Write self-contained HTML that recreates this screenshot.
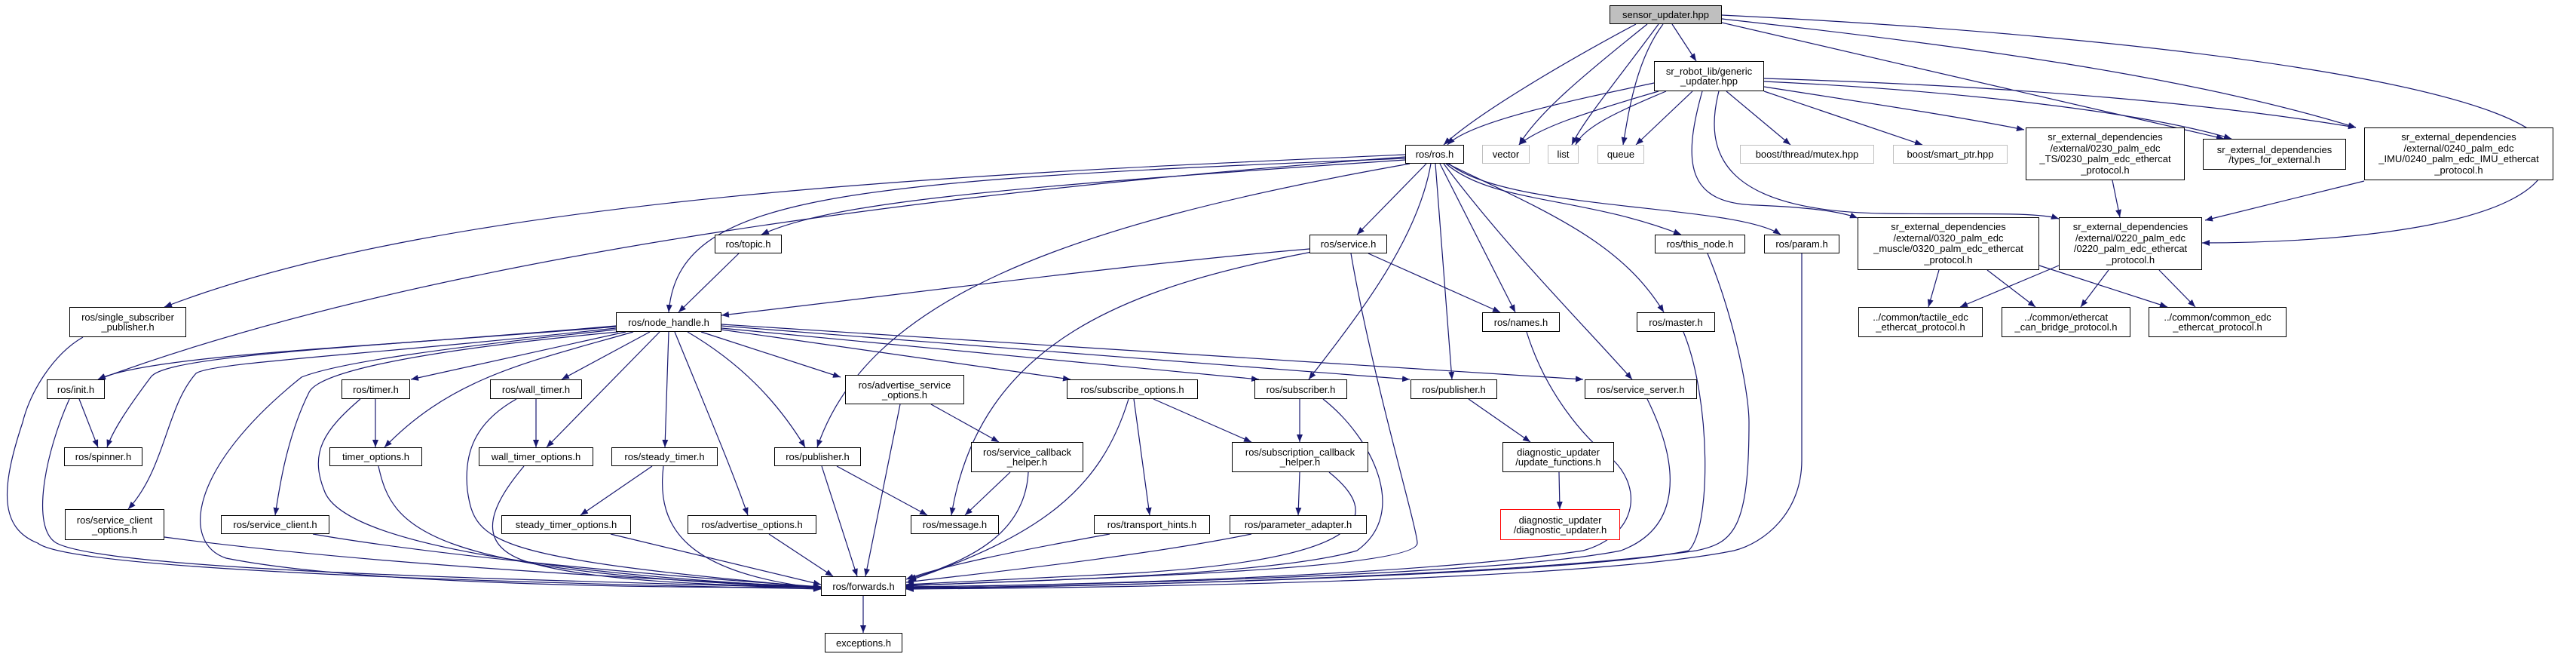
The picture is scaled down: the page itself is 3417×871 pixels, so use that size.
<!DOCTYPE html>
<html><head><meta charset="utf-8"><style>
body{margin:0;width:3417px;height:871px;background:#fff;position:relative;overflow:hidden;font-family:"Liberation Sans",sans-serif}
.n{position:absolute;box-sizing:border-box;border:1.5px solid #000;background:#fff;display:flex;align-items:center;justify-content:center;text-align:center;font-size:13px;line-height:13px;color:#000;white-space:nowrap}
.g{border-color:#bfbfbf}
.r{border-color:#ff0000}
svg{position:absolute;left:0;top:0}
</style></head><body>
<svg width="3417" height="871" viewBox="0 0 3417 871">
<defs><marker id="a" markerUnits="userSpaceOnUse" markerWidth="11" markerHeight="8" refX="10" refY="4" orient="auto"><path d="M0,0 L10,4 L0,8 z" fill="#191970"/></marker></defs>
<g fill="none" stroke="#191970" stroke-width="1.2" marker-end="url(#a)">
<path d="M2170,32 C2080,80 1960,150 1915,192"/>
<path d="M2185,32 C2100,100 2040,150 2015,192"/>
<path d="M2200,32 C2150,100 2100,160 2085,192"/>
<path d="M2206,32 C2170,80 2160,150 2153,192"/>
<path d="M2218,32 L2250,81"/>
<path d="M2284,30 C2500,80 2800,150 2950,184"/>
<path d="M2284,25 C2600,60 2900,100 3125,169"/>
<path d="M2284,20 C2900,50 3380,120 3380,205 C3380,300 3100,322 2921,322"/>
<path d="M2194,110 C2100,130 1950,160 1920,192"/>
<path d="M2200,121 C2100,150 2040,170 2015,192"/>
<path d="M2210,121 C2140,150 2100,170 2090,192"/>
<path d="M2245,121 L2170,192"/>
<path d="M2290,121 L2375,192"/>
<path d="M2340,121 L2550,192"/>
<path d="M2340,115 C2500,140 2600,155 2685,172"/>
<path d="M2340,108 C2600,120 2850,150 2960,184"/>
<path d="M2340,104 C2700,115 2950,140 3125,169"/>
<path d="M2280,121 C2260,200 2280,280 2500,283 C2600,285 2700,280 2731,290"/>
<path d="M2258,121 C2230,220 2240,270 2330,272 C2400,275 2440,280 2464,289"/>
<path d="M1864,205 C1300,230 600,260 218,407"/>
<path d="M1864,208 C1300,250 600,330 130,503"/>
<path d="M1864,210 C1100,240 900,260 887,414"/>
<path d="M1864,212 C1300,250 1100,270 1010,311"/>
<path d="M1870,217 C1400,300 1150,400 1084,593"/>
<path d="M1892,217 L1800,311"/>
<path d="M1898,217 C1880,320 1800,420 1736,503"/>
<path d="M1904,217 L1926,503"/>
<path d="M1910,217 L2010,414"/>
<path d="M1915,217 C2000,330 2100,430 2165,503"/>
<path d="M1920,217 C2050,280 2150,320 2207,414"/>
<path d="M1918,217 C1980,270 2100,260 2230,311"/>
<path d="M1922,217 C2000,280 2300,270 2362,311"/>
<path d="M1737,330 C1500,350 1200,390 957,418"/>
<path d="M1740,334 C1500,380 1300,450 1262,683"/>
<path d="M1815,336 L1990,414"/>
<path d="M1792,336 C1820,500 1880,700 1880,720 C1880,760 1300,770 1202,777"/>
<path d="M980,336 L900,414"/>
<path d="M817,433 C500,460 200,470 130,503"/>
<path d="M817,432 C500,460 220,470 200,500 C170,540 150,570 142,593"/>
<path d="M817,435 C500,470 280,480 260,495 C220,540 220,620 170,675"/>
<path d="M817,437 C600,460 450,480 400,500 C250,620 240,720 300,740 C500,780 1000,780 1089,778"/>
<path d="M820,440 C500,470 420,500 410,520 C380,580 370,650 365,683"/>
<path d="M830,440 L545,503"/>
<path d="M840,440 C700,480 600,500 510,593"/>
<path d="M862,440 L745,503"/>
<path d="M875,440 L725,593"/>
<path d="M887,440 L882,593"/>
<path d="M895,440 C940,550 970,620 992,683"/>
<path d="M912,440 C980,480 1030,530 1068,593"/>
<path d="M930,440 L1115,500"/>
<path d="M957,437 L1420,503"/>
<path d="M957,435 L1670,503"/>
<path d="M957,432 L1870,503"/>
<path d="M957,430 L2100,503"/>
<path d="M105,529 L130,593"/>
<path d="M92,529 C60,600 40,700 75,720 C150,760 800,770 1089,780"/>
<path d="M110,447 C70,470 40,520 30,560 C0,650 0,700 50,720 C100,760 800,775 1089,781"/>
<path d="M498,529 L498,593"/>
<path d="M478,529 C430,570 410,600 430,650 C460,740 900,770 1089,779"/>
<path d="M711,529 L711,593"/>
<path d="M685,529 C630,560 615,600 620,650 C630,720 650,740 1089,779"/>
<path d="M502,618 C520,700 560,760 1089,779"/>
<path d="M695,618 C660,660 620,720 700,745 C800,775 1000,776 1089,779"/>
<path d="M865,618 L770,683"/>
<path d="M880,618 C870,700 910,760 1089,780"/>
<path d="M810,708 L1089,775"/>
<path d="M1020,708 L1105,764"/>
<path d="M415,708 C600,740 900,765 1089,778"/>
<path d="M218,712 C500,750 900,770 1089,778"/>
<path d="M1110,618 L1230,683"/>
<path d="M1090,618 L1137,764"/>
<path d="M1235,536 L1325,586"/>
<path d="M1194,536 L1148,764"/>
<path d="M1340,626 L1280,683"/>
<path d="M1364,626 C1360,700 1300,740 1205,768"/>
<path d="M1530,529 L1660,586"/>
<path d="M1504,529 L1525,683"/>
<path d="M1497,529 C1460,650 1380,710 1205,770"/>
<path d="M1724,529 L1724,586"/>
<path d="M1755,529 C1820,580 1870,680 1800,730 C1700,760 1400,770 1202,776"/>
<path d="M1724,626 L1722,683"/>
<path d="M1763,626 C1830,680 1830,740 1500,760 L1202,775"/>
<path d="M1472,708 C1350,730 1250,750 1202,768"/>
<path d="M1660,708 C1500,740 1300,760 1202,772"/>
<path d="M1948,529 L2030,586"/>
<path d="M2068,626 L2069,675"/>
<path d="M2185,529 C2230,620 2230,700 2150,730 C2000,760 1500,775 1202,778"/>
<path d="M2025,440 C2050,520 2100,580 2140,610 C2180,650 2170,710 2100,730 C1900,760 1500,775 1202,778"/>
<path d="M2233,440 C2270,530 2270,700 2240,730 C2100,760 1500,778 1202,779"/>
<path d="M2265,336 C2300,420 2320,520 2320,560 C2320,700 2300,720 2250,730 C2050,760 1500,778 1202,780"/>
<path d="M2390,336 L2390,610 C2390,680 2340,720 2300,730 C2100,770 1500,779 1202,781"/>
<path d="M1145,790 L1145,839"/>
<path d="M2802,239 L2812,288"/>
<path d="M3136,240 L2925,292"/>
<path d="M2572,358 L2558,407"/>
<path d="M2636,358 L2700,407"/>
<path d="M2705,352 L2875,407"/>
<path d="M2731,352 L2600,407"/>
<path d="M2797,358 L2760,407"/>
<path d="M2864,358 L2912,407"/>
</g></svg>
<div class="n" style="left:2135px;top:7px;width:149px;height:25px;background:#bfbfbf">sensor_updater.hpp</div>
<div class="n" style="left:2194px;top:81px;width:146px;height:40px">sr_robot_lib/generic<br>_updater.hpp</div>
<div class="n" style="left:1864px;top:192px;width:78px;height:25px">ros/ros.h</div>
<div class="n g" style="left:1966px;top:192px;width:63px;height:25px">vector</div>
<div class="n g" style="left:2053px;top:192px;width:41px;height:25px">list</div>
<div class="n g" style="left:2119px;top:192px;width:62px;height:25px">queue</div>
<div class="n g" style="left:2308px;top:192px;width:178px;height:25px">boost/thread/mutex.hpp</div>
<div class="n g" style="left:2511px;top:192px;width:152px;height:25px">boost/smart_ptr.hpp</div>
<div class="n" style="left:2687px;top:169px;width:211px;height:70px;line-height:14.5px">sr_external_dependencies<br>/external/0230_palm_edc<br>_TS/0230_palm_edc_ethercat<br>_protocol.h</div>
<div class="n" style="left:2922px;top:184px;width:190px;height:41px">sr_external_dependencies<br>/types_for_external.h</div>
<div class="n" style="left:3136px;top:169px;width:251px;height:70px;line-height:14.5px">sr_external_dependencies<br>/external/0240_palm_edc<br>_IMU/0240_palm_edc_IMU_ethercat<br>_protocol.h</div>
<div class="n" style="left:92px;top:407px;width:155px;height:40px">ros/single_subscriber<br>_publisher.h</div>
<div class="n" style="left:817px;top:414px;width:140px;height:26px">ros/node_handle.h</div>
<div class="n" style="left:948px;top:311px;width:89px;height:25px">ros/topic.h</div>
<div class="n" style="left:1737px;top:311px;width:103px;height:25px">ros/service.h</div>
<div class="n" style="left:2195px;top:311px;width:120px;height:25px">ros/this_node.h</div>
<div class="n" style="left:2340px;top:311px;width:100px;height:25px">ros/param.h</div>
<div class="n" style="left:2464px;top:288px;width:241px;height:70px;line-height:14.5px">sr_external_dependencies<br>/external/0320_palm_edc<br>_muscle/0320_palm_edc_ethercat<br>_protocol.h</div>
<div class="n" style="left:2731px;top:288px;width:190px;height:70px;line-height:14.5px">sr_external_dependencies<br>/external/0220_palm_edc<br>/0220_palm_edc_ethercat<br>_protocol.h</div>
<div class="n" style="left:1966px;top:414px;width:103px;height:26px">ros/names.h</div>
<div class="n" style="left:2171px;top:414px;width:104px;height:26px">ros/master.h</div>
<div class="n" style="left:2465px;top:407px;width:165px;height:40px">../common/tactile_edc<br>_ethercat_protocol.h</div>
<div class="n" style="left:2655px;top:407px;width:171px;height:40px">../common/ethercat<br>_can_bridge_protocol.h</div>
<div class="n" style="left:2850px;top:407px;width:183px;height:40px">../common/common_edc<br>_ethercat_protocol.h</div>
<div class="n" style="left:62px;top:503px;width:77px;height:26px">ros/init.h</div>
<div class="n" style="left:453px;top:503px;width:91px;height:26px">ros/timer.h</div>
<div class="n" style="left:650px;top:503px;width:122px;height:26px">ros/wall_timer.h</div>
<div class="n" style="left:1121px;top:497px;width:158px;height:39px">ros/advertise_service<br>_options.h</div>
<div class="n" style="left:1415px;top:503px;width:174px;height:26px">ros/subscribe_options.h</div>
<div class="n" style="left:1664px;top:503px;width:123px;height:26px">ros/subscriber.h</div>
<div class="n" style="left:1871px;top:503px;width:115px;height:26px">ros/publisher.h</div>
<div class="n" style="left:2102px;top:503px;width:149px;height:26px">ros/service_server.h</div>
<div class="n" style="left:85px;top:593px;width:104px;height:25px">ros/spinner.h</div>
<div class="n" style="left:437px;top:593px;width:123px;height:25px">timer_options.h</div>
<div class="n" style="left:635px;top:593px;width:152px;height:25px">wall_timer_options.h</div>
<div class="n" style="left:811px;top:593px;width:141px;height:25px">ros/steady_timer.h</div>
<div class="n" style="left:1027px;top:593px;width:115px;height:25px">ros/publisher.h</div>
<div class="n" style="left:1288px;top:586px;width:149px;height:40px">ros/service_callback<br>_helper.h</div>
<div class="n" style="left:1634px;top:586px;width:181px;height:40px">ros/subscription_callback<br>_helper.h</div>
<div class="n" style="left:1993px;top:586px;width:148px;height:40px">diagnostic_updater<br>/update_functions.h</div>
<div class="n" style="left:86px;top:675px;width:132px;height:41px">ros/service_client<br>_options.h</div>
<div class="n" style="left:293px;top:683px;width:144px;height:25px">ros/service_client.h</div>
<div class="n" style="left:665px;top:683px;width:172px;height:25px">steady_timer_options.h</div>
<div class="n" style="left:912px;top:683px;width:171px;height:25px">ros/advertise_options.h</div>
<div class="n" style="left:1208px;top:683px;width:117px;height:25px">ros/message.h</div>
<div class="n" style="left:1451px;top:683px;width:154px;height:25px">ros/transport_hints.h</div>
<div class="n" style="left:1631px;top:683px;width:182px;height:25px">ros/parameter_adapter.h</div>
<div class="n r" style="left:1990px;top:675px;width:159px;height:41px">diagnostic_updater<br>/diagnostic_updater.h</div>
<div class="n" style="left:1089px;top:764px;width:113px;height:26px">ros/forwards.h</div>
<div class="n" style="left:1094px;top:839px;width:103px;height:26px">exceptions.h</div>
</body></html>
